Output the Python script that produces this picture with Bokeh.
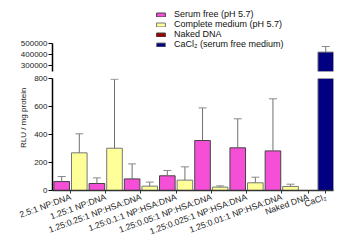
import math
from bokeh.plotting import figure
from bokeh.layouts import column
from bokeh.models import Range1d, FixedTicker, Legend, LegendItem, Title, ColumnDataSource
from bokeh.embed import file_html
from bokeh.resources import INLINE

# ---------------- data ----------------
groups = ["2.5:1 NP:DNA", "1.25:1 NP:DNA", "1.25:0.25:1 NP:HSA:DNA",
          "1.25:0.1:1 NP:HSA:DNA", "1.25:0.05:1 NP:HSA:DNA",
          "1.25:0.025:1 NP:HSA:DNA", "1.25:0.01:1 NP:HSA:DNA"]
serum_free = [64, 50, 83, 105, 357, 305, 283]
serum_free_err = [36, 40, 107, 38, 233, 207, 372]
complete_medium = [269, 302, 31, 74, 24, 55, 29]
complete_medium_err = [136, 493, 29, 95, 9, 40, 16]
controls = ["Naked DNA", "CaCl\u2082"]
naked_dna = [0]
naked_dna_err = [0]
cacl2 = [420000]
cacl2_err = [52000]

series_labels = ["Serum free (pH 5.7)", "Complete medium (pH 5.7)",
                 "Naked DNA", "CaCl\u2082 (serum free medium)"]
colors = ["#f44fd6", "#ffff99", "#a00000", "#000080"]
outline = ["#444444", "#777777", "#444444", "#777777"]

lower_ticks = [0, 200, 400, 600, 800]
upper_ticks = [300000, 400000, 500000]

# ---------------- positions ----------------
n = len(groups)
x_sf = [2 * i for i in range(n)]
x_cm = [2 * i + 1 for i in range(n)]
x_naked = [2 * n]
x_ca = [2 * n + 1]
tick_pos = [2 * i + 0.5 for i in range(n)] + x_naked + x_ca
tick_labels = {}
for t, lab in zip(tick_pos, groups + controls):
    tick_labels[t] = lab

series = [
    (x_sf, serum_free, serum_free_err),
    (x_cm, complete_medium, complete_medium_err),
    (x_naked, naked_dna, naked_dna_err),
    (x_ca, cacl2, cacl2_err),
]

FONT = "Liberation Sans"
BAR_W = 0.886


def make_fig(h, yr, ymin, top, bottom, with_x):
    p = figure(width=341, height=h, output_backend="svg", toolbar_location=None,
               x_range=Range1d(-0.523, 15.44), y_range=yr,
               min_border_left=52, min_border_right=8,
               min_border_top=top, min_border_bottom=bottom,
               x_axis_location="below" if with_x else None)
    p.outline_line_color = None
    p.xgrid.visible = False
    p.ygrid.visible = False
    p.background_fill_color = "white"
    p.border_fill_color = "white"
    for (xs, vals, errs), c, oc in zip(series, colors, outline):
        keep = [i for i, v in enumerate(vals) if v >= ymin]
        src = ColumnDataSource(dict(x=[xs[i] for i in keep], top=[vals[i] for i in keep]))
        p.vbar(x="x", top="top", bottom=0, width=BAR_W, source=src,
               fill_color=c, line_color=oc, line_width=1)
        ek = [i for i in keep if errs[i] > 0]
        esrc = ColumnDataSource(dict(x=[xs[i] for i in ek],
                                     y0=[vals[i] for i in ek],
                                     y1=[vals[i] + errs[i] for i in ek]))
        p.segment(x0="x", y0="y0", x1="x", y1="y1", source=esrc,
                  line_color="#707070", line_width=1)
        p.scatter(x="x", y="y1", source=esrc, marker="dash", size=8,
                  line_color="#8a8a8a", line_width=1)
    ax = p.yaxis[0]
    ax.axis_line_color = "black"
    ax.axis_line_width = 1.5
    ax.major_tick_line_color = "black"
    ax.major_tick_out = 4
    ax.major_tick_in = 0
    ax.minor_tick_line_color = None
    ax.major_label_standoff = 1
    ax.major_label_text_font = FONT
    ax.major_label_text_font_size = "8px"
    ax.major_label_text_color = "#222222"
    return p


# upper panel (top of the broken axis); frame extended upward to hold the legend
p_up = make_fig(75, Range1d(240000, 852857), 240000, 5, 4, False)
p_up.yaxis.ticker = FixedTicker(ticks=upper_ticks)
p_up.yaxis.bounds = (240000, 500000)
p_up.yaxis.formatter.use_scientific = False

# hidden renderers that only provide the legend swatches
legend_rends = []
for (xs, vals, errs), c, oc in zip(series, colors, outline):
    r = p_up.vbar(x=xs, top=vals, bottom=0, width=BAR_W,
                  fill_color=c, line_color=oc, line_width=1, visible=False)
    legend_rends.append(r)

legend = Legend(items=[LegendItem(label=l, renderers=[r]) for l, r in zip(series_labels, legend_rends)],
                location=(103, 22))
legend.padding = 0
legend.margin = 0
legend.spacing = 0
legend.border_line_alpha = 0
legend.background_fill_alpha = 0
legend.inactive_fill_alpha = 0
legend.glyph_width = 11
legend.glyph_height = 5
legend.label_height = 10
legend.label_standoff = 8
legend.label_text_font = FONT
legend.label_text_font_size = "9px"
legend.label_text_color = "#111111"
p_up.add_layout(legend)

# lower panel
p_lo = make_fig(169, Range1d(0, 800), 0, 3, 54, True)
p_lo.yaxis.ticker = FixedTicker(ticks=lower_ticks)
xa = p_lo.xaxis[0]
xa.ticker = FixedTicker(ticks=tick_pos)
xa.major_label_overrides = tick_labels
xa.major_label_orientation = math.radians(20)
xa.axis_line_color = "#333333"
xa.axis_line_width = 1.5
xa.major_tick_line_color = "#333333"
xa.major_tick_out = 3
xa.major_tick_in = 0
xa.minor_tick_line_color = None
xa.major_label_standoff = 3
xa.major_label_text_font = FONT
xa.major_label_text_font_size = "8.6px"
xa.major_label_text_color = "#222222"

ytitle = Title(text="RLU / mg protein", align="right", offset=9, standoff=8,
               text_font=FONT, text_font_size="8px", text_font_style="normal",
               text_color="#222222")
p_lo.add_layout(ytitle, "left")

layout = column(p_up, p_lo, spacing=0)
open("out.html", "w").write(file_html(layout, INLINE))
